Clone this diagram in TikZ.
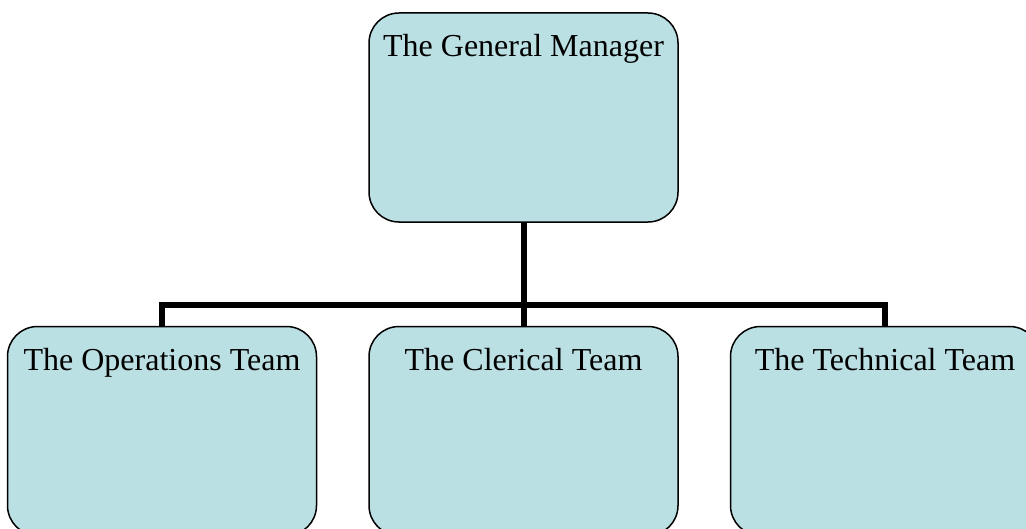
\documentclass[tikz,border=0pt]{standalone}
\usepackage{fontspec}
\setmainfont{Liberation Serif}
\usepackage{tikz}
\usetikzlibrary{
	positioning
}
\definecolor{teamfill}{RGB}{187,224,227}

\begin{document}
\begin{tikzpicture}[
		node distance=25.5pt,
		team/.style={draw, line width=0.75pt, fill=teamfill, rounded corners=15pt,
			minimum width=154.5pt, minimum height=104.5pt, inner sep=0pt},
		title/.style={anchor=north, yshift=-7.5pt, font=\fontsize{16}{19}\selectfont},
		link/.style={line width=3pt}
		]
		
		\useasboundingbox (0,0) rectangle (513pt,-264.5pt);
		\clip (0,0) rectangle (513pt,-264.5pt);
		
		\node[team, label={[title]north:The General Manager}] (gm) at (261.75pt,-58.75pt) {};
		\node[team, below=51.5pt of gm, label={[title]north:The Clerical Team}] (clerical) {};
		\node[team, left=of clerical, label={[title]north:The Operations Team}] (ops) {};
		\node[team, right=of clerical, label={[title]north:The Technical Team}] (tech) {};
		
		\coordinate[above=10.5pt of clerical.north] (bus);
		\draw[link] (gm.south) -- (clerical.north);
		\draw[link] (ops.north) |- (bus) -| (tech.north);
		
	\end{tikzpicture}
\end{document}
